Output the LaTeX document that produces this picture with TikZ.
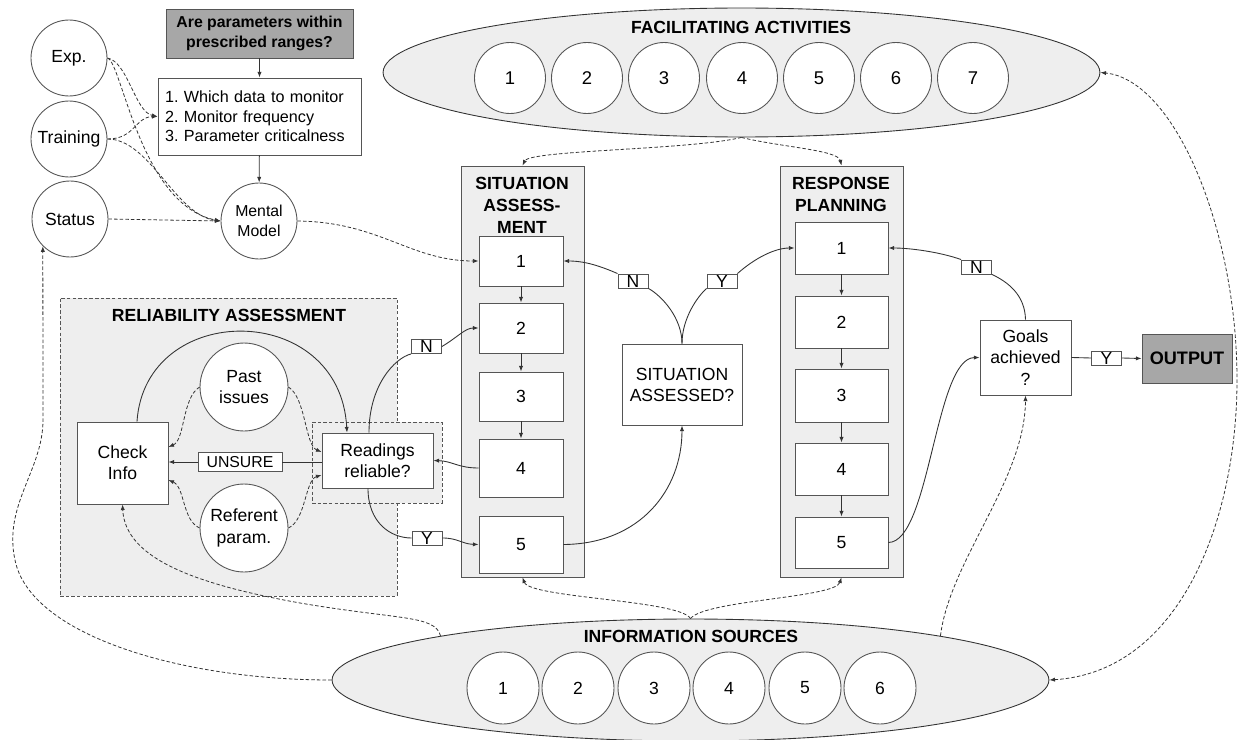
\documentclass[tikz,border=0pt]{standalone}
\usepackage{fontspec}
\setmainfont{Liberation Sans}
\usetikzlibrary{shapes.geometric,arrows.meta,calc}
\definecolor{panelc}{HTML}{EEEEEE}
\definecolor{grayc}{HTML}{A7A7A7}
\definecolor{edgec}{HTML}{555555}
\definecolor{wirec}{HTML}{333333}
\frenchspacing
\begin{document}
\begin{tikzpicture}[x=0.02cm,y=-0.02cm,
  every node/.style={font=\fontsize{10}{12}\selectfont, text=black},
  box/.style={draw=edgec, fill=white, line width=0.5pt, inner sep=0pt, align=center},
  circ/.style={circle, draw=edgec, fill=white, line width=0.5pt, inner sep=0pt, align=center},
  panelbox/.style={draw=edgec, fill=panelc, line width=0.5pt, inner sep=0pt},
  dpanel/.style={draw=edgec, fill=panelc, line width=0.5pt, inner sep=0pt, dash pattern=on 2pt off 1.2pt},
  blob/.style={ellipse, draw=wirec, fill=panelc, line width=0.5pt, inner sep=0pt},
  tag/.style={draw=edgec, fill=white, line width=0.5pt, inner sep=0pt, minimum width=0.6cm, minimum height=0.28cm},
  ttl/.style={font=\fontsize{10}{12.5}\selectfont\bfseries, align=center},
  conn/.style={draw=wirec, line width=0.5pt},
  arr/.style={conn, -{Latex[length=3.2pt,width=2.4pt]}},
  darr/.style={arr, dash pattern=on 2pt off 1.2pt, line width=0.45pt},
  dboth/.style={conn, dash pattern=on 2pt off 1.2pt, line width=0.45pt, {Latex[length=3.2pt,width=2.4pt]}-{Latex[length=3.2pt,width=2.4pt]}}
]
\useasboundingbox (0,0) rectangle (1238,740);

% Facilitating activities
\node[blob, minimum width=14.34cm, minimum height=2.58cm] (fa) at (741.5,72.5) {};
\node[ttl] (fat) at (741,27) {FACILITATING ACTIVITIES};
\foreach \i/\x in {1/510,2/587,3/664,4/742,5/819,6/896,7/973}
  \node[circ, minimum size=1.42cm, font=\fontsize{10.5}{12}\selectfont] (fa\i) at (\x,78) {\i};

% Information sources
\node[blob, minimum width=14.34cm, minimum height=2.44cm] (is) at (690.5,680) {};
\node[ttl] (ist) at (691,636) {INFORMATION SOURCES};
\foreach \i/\x in {1/503,2/578,3/654,4/729,5/805,6/880}
  \node[circ, minimum size=1.44cm] (is\i) at (\x,688) {\i};

% Reliability assessment
\node[dpanel, minimum width=6.74cm, minimum height=5.96cm] (rap) at (228.5,447) {};
\node[ttl] (rat) at (229,315) {RELIABILITY ASSESSMENT};
\node[dpanel, minimum width=2.6cm, minimum height=1.62cm] (rdo) at (377,462.5) {};
\node[box, minimum width=2.22cm, minimum height=1.1cm] (rd) at (377.5,460.5) {Readings\\reliable?};
\node[box, minimum width=1.82cm, minimum height=1.64cm] (ci) at (122.5,463) {Check\\Info};
\node[circ, minimum size=1.76cm] (past) at (244,387) {Past\\issues};
\node[circ, minimum size=1.76cm] (ref) at (244,528) {Referent\\param.};
\node[tag, minimum width=1.68cm, minimum height=0.38cm, font=\fontsize{9}{10}\selectfont] (unsure) at (240,462) {UNSURE};

% top left
\node[circ, minimum size=1.52cm] (exp) at (69,58) {Exp.};
\node[circ, minimum size=1.52cm] (train) at (69,139) {Training};
\node[circ, minimum size=1.52cm] (status) at (70,219) {Status};
\node[circ, minimum size=1.52cm, font=\fontsize{9}{11.3}\selectfont] (mm) at (259,221) {Mental\\Model};
\node[box, fill=grayc, minimum width=3.74cm, minimum height=0.98cm, font=\fontsize{9}{11.3}\selectfont\bfseries] (q) at (259.5,33.5) {Are parameters within\\prescribed ranges?};
\node[box, minimum width=4.06cm, minimum height=1.54cm, text width=3.78cm, align=left, font=\fontsize{9.2}{11}\selectfont] (list) at (259.5,116.5) {1. Which data to monitor\\2. Monitor frequency\\3. Parameter criticalness};

% Situation assessment
\node[panelbox, minimum width=2.46cm, minimum height=8.22cm] (sap) at (522.5,371.5) {};
\node[ttl] (sat) at (522,205) {SITUATION\\ASSESS-\\MENT};
\node[box, minimum width=1.68cm, minimum height=1cm] (sa1) at (521,261) {1};
\node[box, minimum width=1.68cm, minimum height=1cm] (sa2) at (521,328) {2};
\node[box, minimum width=1.68cm, minimum height=0.98cm] (sa3) at (521,396.5) {3};
\node[box, minimum width=1.68cm, minimum height=1.16cm] (sa4) at (521,468) {4};
\node[box, minimum width=1.68cm, minimum height=1.14cm] (sa5) at (521,544.5) {5};

% Response planning
\node[panelbox, minimum width=2.46cm, minimum height=8.22cm] (rpp) at (841.5,371.5) {};
\node[ttl] (rpt) at (841,194) {RESPONSE\\PLANNING};
\node[box, minimum width=1.86cm, minimum height=1.04cm] (rp1) at (841.5,248) {1};
\node[box, minimum width=1.86cm, minimum height=1.04cm] (rp2) at (841.5,322) {2};
\node[box, minimum width=1.86cm, minimum height=1.06cm] (rp3) at (841.5,395.5) {3};
\node[box, minimum width=1.86cm, minimum height=1.04cm] (rp4) at (841.5,469) {4};
\node[box, minimum width=1.86cm, minimum height=1.02cm] (rp5) at (841.5,542.5) {5};

% decisions
\node[box, minimum width=2.4cm, minimum height=1.62cm] (saq) at (682,384.5) {SITUATION\\ASSESSED?};
\node[box, minimum width=1.82cm, minimum height=1.5cm, font=\fontsize{10}{12.3}\selectfont] (goals) at (1025.5,357.5) {Goals\\achieved\\?};
\node[box, fill=grayc, minimum width=1.8cm, minimum height=0.98cm, font=\fontsize{10.3}{12}\selectfont\bfseries] (out) at (1187,358.5) {OUTPUT};

% tags
\node[tag] (nSA) at (633,281) {N};
\node[tag] (ySA) at (722,281) {Y};
\node[tag] (nG) at (976.5,267) {N};
\node[tag] (yG) at (1106.5,358) {Y};
\node[tag] (nR) at (426.5,346.5) {N};
\node[tag] (yR) at (427,538) {Y};

% ---- connectors: top left
\draw[arr] (q) -- (list);
\draw[arr] (list) -- (mm);
\draw[darr] (exp.east) .. controls (128,62) and (135,112) .. (list.west);
\draw[darr] (exp.east) .. controls (122,62) and (140,205) .. (mm.west);
\draw[darr] (train.east) .. controls (135,139) and (135,117) .. (list.west);
\draw[darr] (train.east) .. controls (150,139) and (175,215) .. (mm.west);
\draw[darr] (status.east) -- (mm.west);
\draw[darr] (mm.east) .. controls (380,222) and (410,261) .. (sa1.west);

% facilitating -> panels
\draw[darr] (fa.south) .. controls (690,150) and (530,150) .. (sap.north);
\draw[darr] (fa.south) .. controls (780,147) and (838,150) .. (rpp.north);
% info -> panels
\draw[darr] (is.north) .. controls (680,600) and (530,598) .. (sap.south);
\draw[darr] (is.north) .. controls (705,600) and (835,598) .. (rpp.south);
\draw[darr] (is.10) .. controls (950,560) and (1025,480) .. (goals.south);
\draw[darr] (is.170) .. controls (435,615) and (400,620) .. (300,603) .. controls (200,585) and (125,560) .. (ci.south);
\draw[darr] (is.west) .. controls (180,680) and (30,635) .. (15,560) .. controls (3,505) and (43,470) .. (43,420) -- (status.225);
\draw[dboth] (is.east) .. controls (1180,672) and (1237,520) .. (1237,380) .. controls (1237,230) and (1175,80) .. (fa.east);

% SA chain
\draw[arr] (sa1) -- (sa2);
\draw[arr] (sa2) -- (sa3);
\draw[arr] (sa3) -- (sa4);
\draw[arr] (rp1) -- (rp2);
\draw[arr] (rp2) -- (rp3);
\draw[arr] (rp3) -- (rp4);
\draw[arr] (rp4) -- (rp5);

% reliability
\draw[darr] (past.west) .. controls (182,398) and (185,440) .. ($(ci.east)+(0,-16)$);
\draw[darr] (past.east) .. controls (306,398) and (305,445) .. ($(rd.west)+(0,-8.5)$);
\draw[darr] (ref.west) .. controls (182,520) and (185,487) .. ($(ci.east)+(0,17)$);
\draw[darr] (ref.east) .. controls (306,520) and (305,480) .. ($(rd.west)+(0,14.5)$);
\draw[conn] (rd.west |- unsure.east) -- (unsure.east);
\draw[arr] (unsure.west) -- (unsure.west -| ci.east);
\draw[arr] ($(ci.north)+(14.5,0)$) .. controls (145,300) and (340,300) .. ($(rd.north)+(-30.5,0)$);
\draw[conn] ($(rd.north)+(-8.5,0)$) .. controls (369,385) and (395,358) .. (nR.south west);
\draw[arr] (nR.east) .. controls (458,337) and (465,328) .. (sa2.west);
\draw[conn] ($(rd.south)+(-9.5,0)$) .. controls (368,522) and (390,538) .. (yR.west);
\draw[arr] (yR.east) .. controls (458,538) and (462,544) .. (sa5.west);
\draw[arr] (sa4.west) .. controls (458,468) and (452,461) .. (rd.east);

% situation assessed
\draw[conn] (saq.north) .. controls (682,318) and (662,296) .. (nSA.south east);
\draw[arr] (nSA.north west) .. controls (600,266) and (585,261) .. (sa1.east);
\draw[conn] (saq.north) .. controls (682,318) and (698,296) .. (ySA.south west);
\draw[arr] (ySA.north east) .. controls (755,258) and (775,248) .. (rp1.west);
\draw[arr] (sa5.east) .. controls (640,544) and (682,490) .. (saq.south);

% goals
\draw[conn] (goals.north) .. controls (1025,295) and (1008,282) .. (nG.south east);
\draw[arr] (nG.north west) .. controls (940,252) and (910,248) .. (rp1.east);
\draw[conn] (goals.east) -- (yG.west);
\draw[arr] (yG.east) -- (out.west);
\draw[arr] (rp5.east) .. controls (930,542) and (935,358) .. (goals.west);
\end{tikzpicture}
\end{document}
